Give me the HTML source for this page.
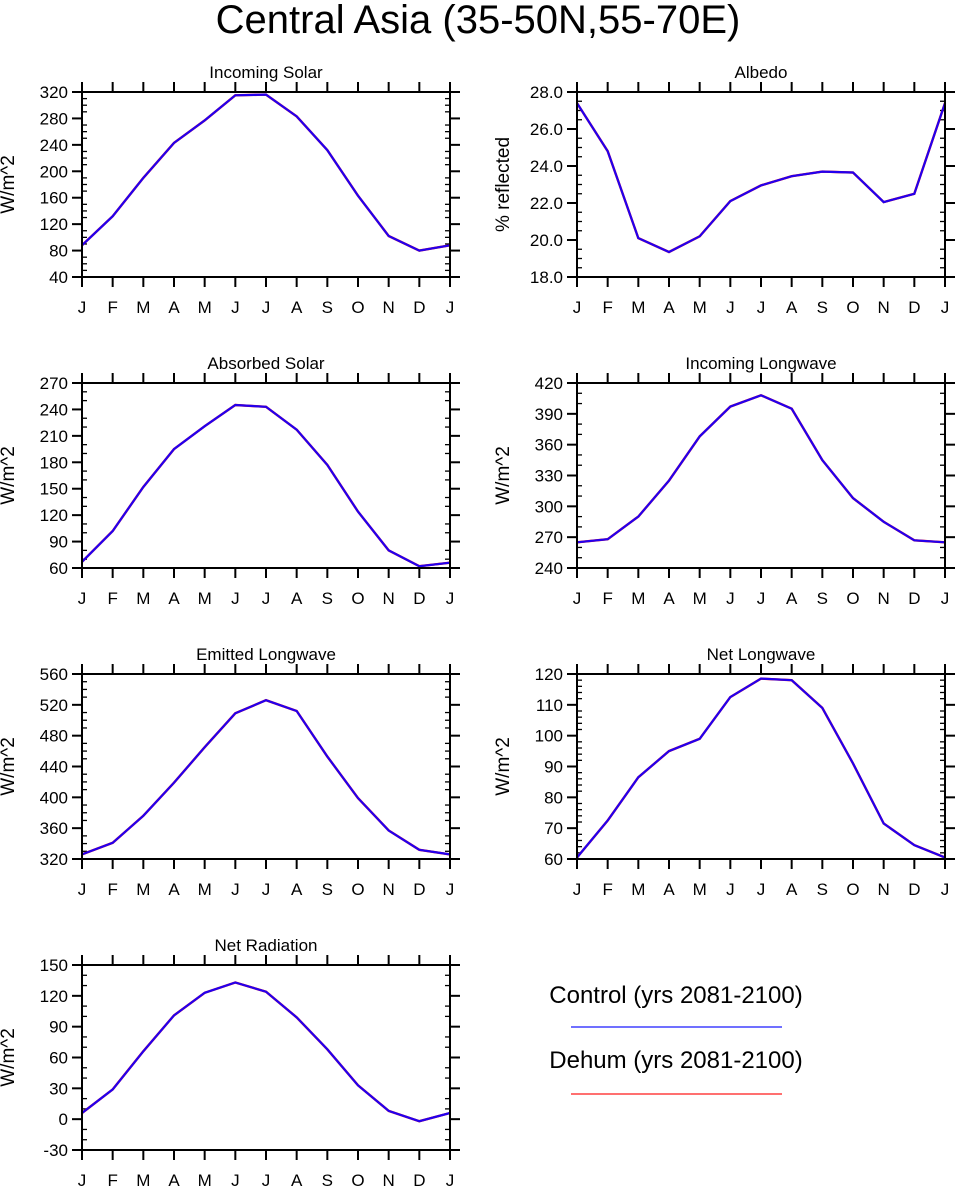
<!DOCTYPE html>
<html><head><meta charset="utf-8"><style>
html,body{margin:0;padding:0;background:#fff;}
svg{display:block;font-family:"Liberation Sans",Arial,sans-serif;}
</style></head><body>
<svg id="fig" width="957" height="1187" viewBox="0 0 957 1187">
<text x="478" y="33" font-size="40" text-anchor="middle">Central Asia (35-50N,55-70E)</text>
<g>
<text x="676" y="1003" font-size="24" text-anchor="middle">Control (yrs 2081-2100)</text>
<line x1="571" y1="1027" x2="782" y2="1027" stroke="#1a1aff" stroke-width="1.3"/>
<text x="676" y="1068" font-size="24" text-anchor="middle">Dehum (yrs 2081-2100)</text>
<line x1="571" y1="1094" x2="782" y2="1094" stroke="#ff1a1a" stroke-width="1.3"/>
</g>
</svg>
<script>
const months = ["J","F","M","A","M","J","J","A","S","O","N","D","J"];
const titles = ["Incoming Solar","Albedo","Absorbed Solar","Incoming Longwave","Emitted Longwave","Net Longwave","Net Radiation"];
const yLabels = ["W/m^2","% reflected","W/m^2","W/m^2","W/m^2","W/m^2","W/m^2"];
const incomingSolar = [88,132,190,243,277,315,316,283,232,163,102,80,88];
const albedo = [27.4,24.8,20.1,19.35,20.2,22.1,22.95,23.45,23.7,23.65,22.05,22.5,27.4];
const absorbedSolar = [67,102,152,195,221,245,243,217,177,124,80,62,66];
const incomingLW = [265,268,290,325,368,397,408,395,345,308,285,267,265];
const emittedLW = [326,341,376,419,465,509,526,512,453,399,357,332,326];
const netLW = [60.5,72.5,86.5,95,99,112.5,118.5,118,109,91,71.5,64.5,60.5];
const netRad = [6,29,66,101,123,133,124,99,68,33,8,-2,6];
const yMins = [40,18,60,240,320,60,-30];
const yMaxs = [320,28,270,420,560,120,150];
const ySteps = [40,2,30,30,40,10,30];
const yDecimals = [0,1,0,0,0,0,0];
const yMinorCounts = [3,3,2,2,3,4,2];
const series = [incomingSolar,albedo,absorbedSolar,incomingLW,emittedLW,netLW,netRad];
const keys = ["incoming-solar","albedo","absorbed-solar","incoming-longwave","emitted-longwave","net-longwave","net-radiation"];

const NS="http://www.w3.org/2000/svg";
const svg=document.getElementById('fig');
function mk(tag,attrs,parent){const e=document.createElementNS(NS,tag);for(const k in attrs)e.setAttribute(k,attrs[k]);parent.appendChild(e);return e;}
const lefts=[82,577], tops=[92,383,674,965], W=368, H=185;
for(let p=0;p<7;p++){
  const x0=lefts[p%2], y0=tops[Math.floor(p/2)], x1=x0+W, y1=y0+H;
  const g=mk('g',{},svg);
  
  
  const xs=i=>x0+i*W/12;
  const ys=v=>y1-(v-yMins[p])/(yMaxs[p]-yMins[p])*H;
  const t=mk('text',{x:(x0+x1)/2,y:y0-14,'font-size':17,'text-anchor':'middle'},g);
  t.textContent=titles[p];
  
  
  const yl=mk('text',{x:0,y:0,'font-size':19,'text-anchor':'middle',transform:`translate(${x0-68},${(y0+y1)/2}) rotate(-90)`},g);
  yl.textContent=yLabels[p];
  
  
  for(let i=0;i<13;i++){
    const x=xs(i);
    mk('line',{x1:x,y1:y0,x2:x,y2:y0-10,stroke:'#000','stroke-width':2},g);
    mk('line',{x1:x,y1:y1,x2:x,y2:y1+10,stroke:'#000','stroke-width':2},g);
    const lt=mk('text',{x:x,y:y1+36,'font-size':17,'text-anchor':'middle'},g);
    lt.textContent=months[i];
    
    
  }
  const st=ySteps[p], nm=yMinorCounts[p];
  for(let v=yMins[p]; v<=yMaxs[p]+1e-9; v+=st){
    const y=ys(v);
    mk('line',{x1:x0-10,y1:y,x2:x0,y2:y,stroke:'#000','stroke-width':2},g);
    mk('line',{x1:x1,y1:y,x2:x1+10,y2:y,stroke:'#000','stroke-width':2},g);
    const lt=mk('text',{x:x0-14,y:y+6,'font-size':17,'text-anchor':'end'},g);
    lt.textContent=v.toFixed(yDecimals[p]);
    
    
    if(v+st<=yMaxs[p]+1e-9){
      for(let k=1;k<=nm;k++){
        const ym=ys(v+k*st/(nm+1));
        mk('line',{x1:x0,y1:ym,x2:x0+5,y2:ym,stroke:'#000','stroke-width':1.3},g);
        mk('line',{x1:x1-5,y1:ym,x2:x1,y2:ym,stroke:'#000','stroke-width':1.3},g);
      }
    }
  }
  const pts=series[p].map((v,i)=>xs(i).toFixed(1)+','+ys(v).toFixed(1)).join(' ');
  const r=mk('polyline',{points:pts,fill:'none',stroke:'#ff0000','stroke-width':2.4},g);
  
  
  const b=mk('polyline',{points:pts,fill:'none',stroke:'#2200ee','stroke-width':2.2},g);
  
  
  mk('rect',{x:x0,y:y0,width:W,height:H,fill:'none',stroke:'#000','stroke-width':2},g);
}
</script>
</body></html>
